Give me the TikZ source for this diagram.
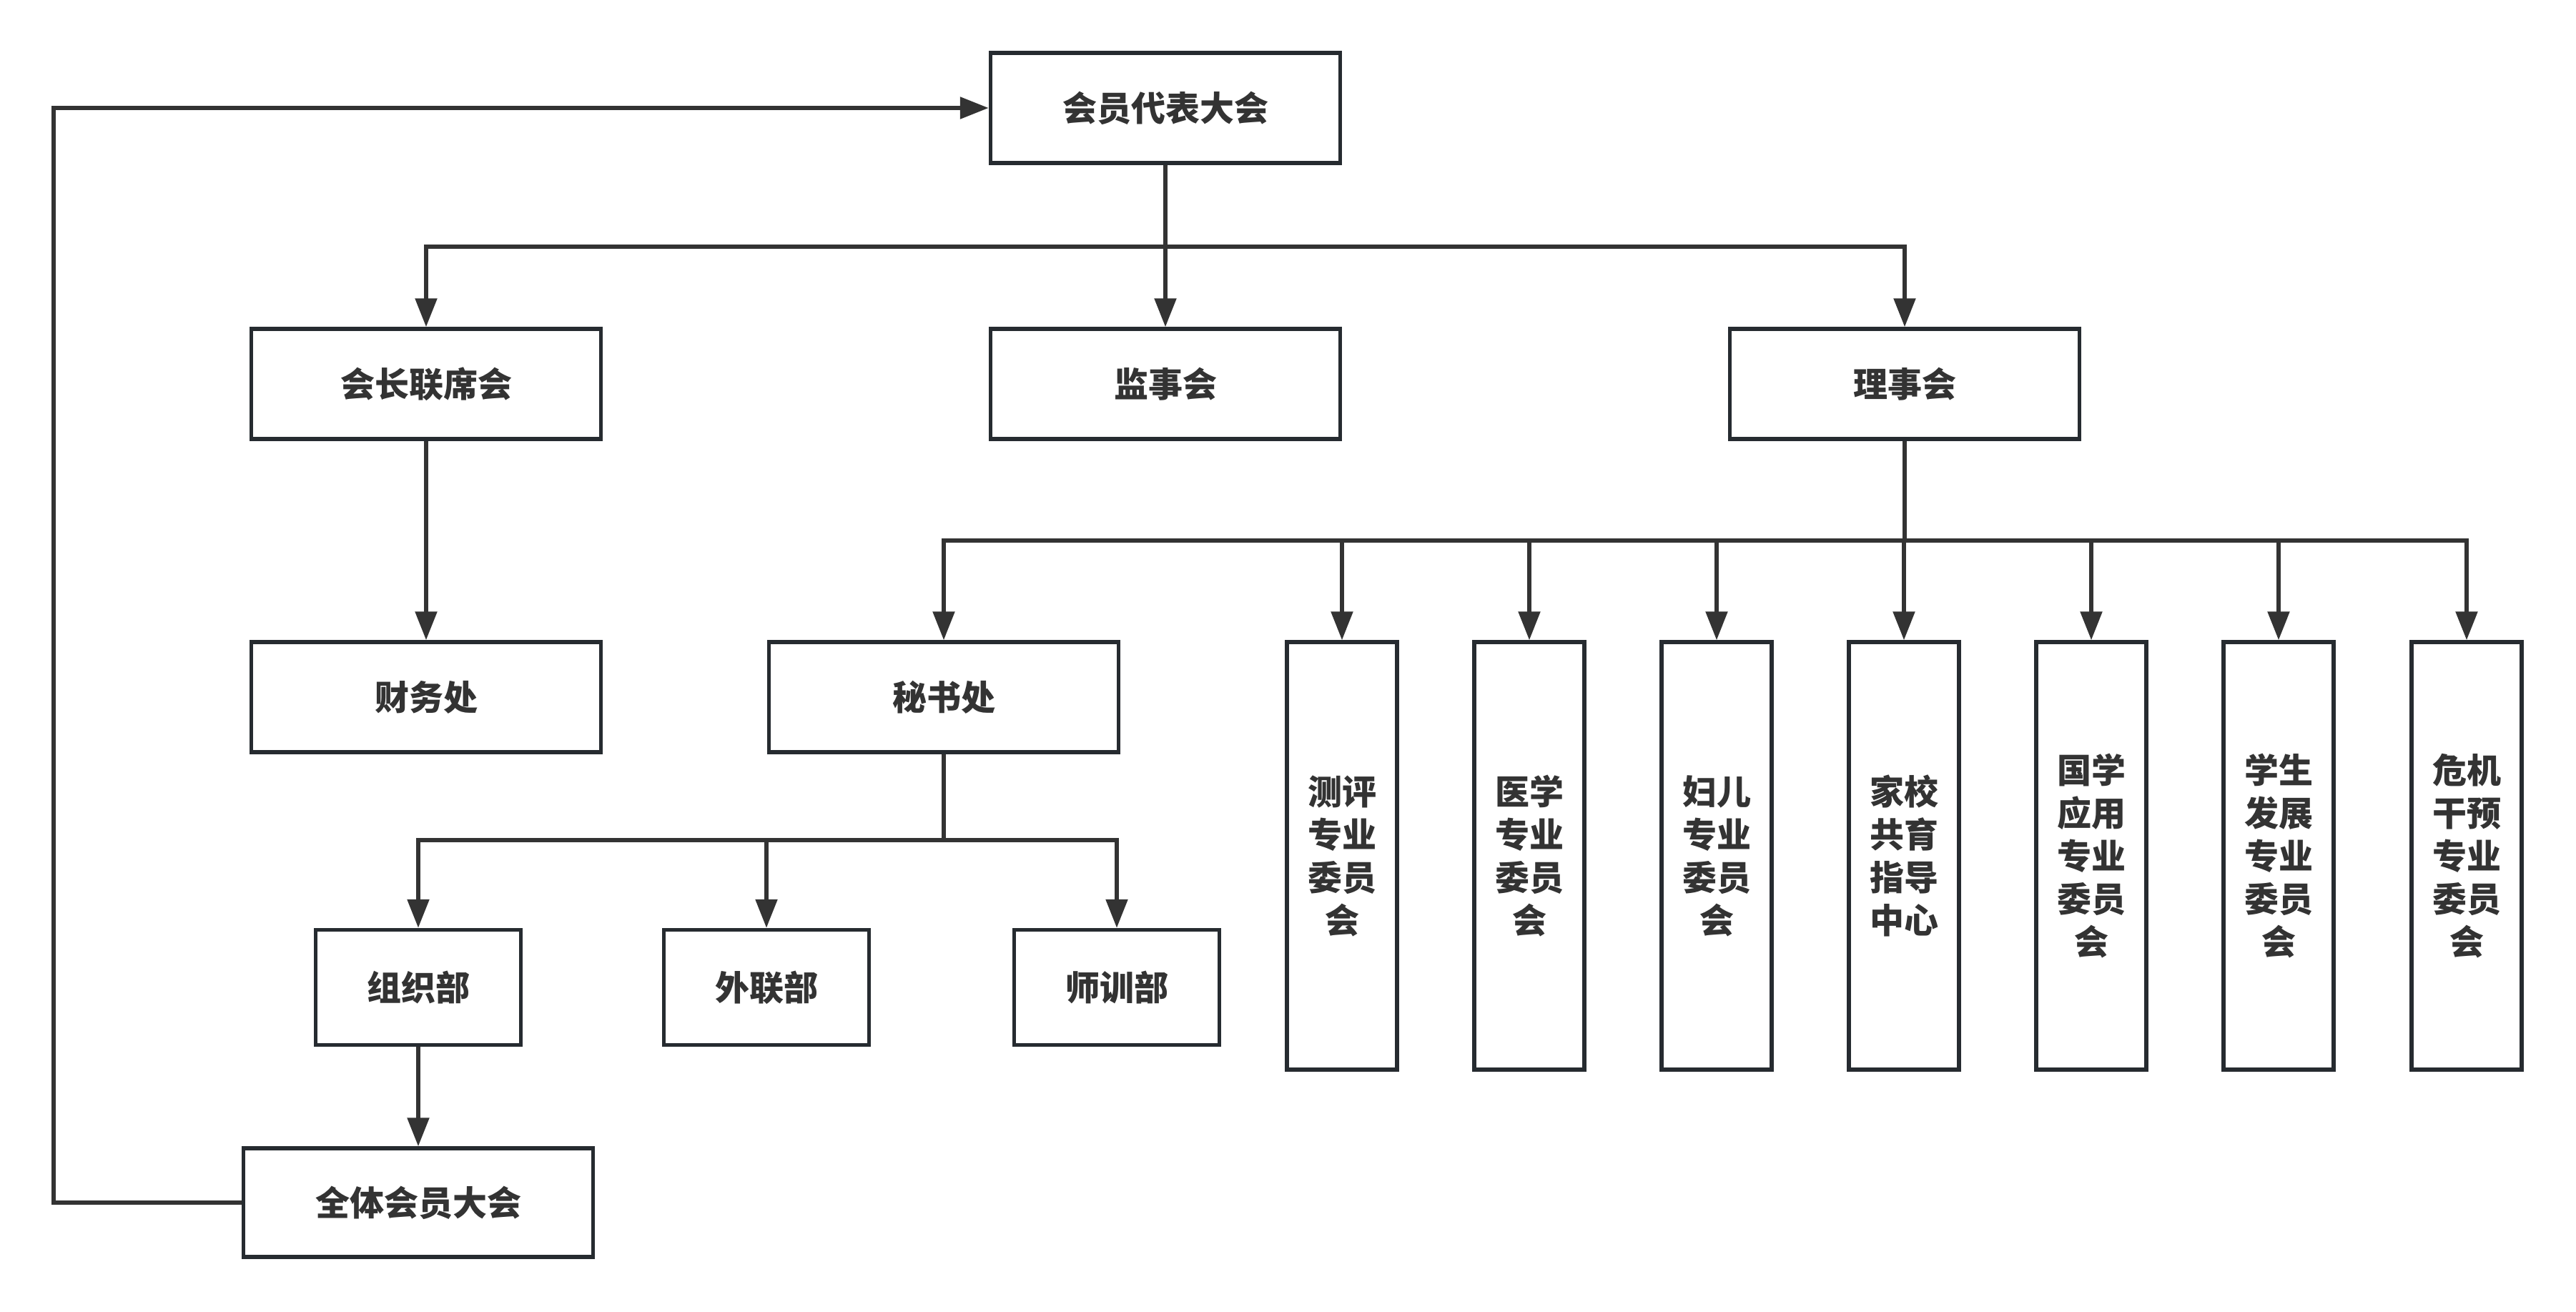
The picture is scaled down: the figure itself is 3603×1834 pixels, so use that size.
\documentclass[tikz,border=0pt]{standalone}
\usepackage{fontspec}
\setmainfont{Noto Sans CJK SC}
\usetikzlibrary{arrows.meta}
\definecolor{ink}{HTML}{333333}
\definecolor{edge}{HTML}{262B30}
\begin{document}
\begin{tikzpicture}[x=1pt,y=-1pt,
  box/.style={draw=edge, line width=5.5pt, fill=white, inner sep=0pt, text=ink,
    font=\fontsize{48}{60}\selectfont\bfseries, align=center},
  wide/.style={box, minimum width=489pt, minimum height=154pt},
  small/.style={box, minimum width=287pt, minimum height=161pt},
  tall/.style={box, minimum width=154pt, minimum height=598pt},
  conn/.style={draw=ink, line width=5.5pt},
  arr/.style={conn, -{Triangle[length=40pt, width=30pt]}}]
\useasboundingbox (0,0) rectangle (3603,1834);
\fill[white] (0,0) rectangle (3603,1834);
% nodes
\node[wide] (dbdh) at (1630,151) {会员代表大会};
\node[wide] (hzlx) at (596,537) {会长联席会};
\node[wide] (jsh) at (1630,537) {监事会};
\node[wide] (lsh) at (2664,537) {理事会};
\node[wide] (cwc) at (596,975) {财务处};
\node[wide] (msc) at (1320,975) {秘书处};
\node[small] (zzb) at (585,1381) {组织部};
\node[small] (wlb) at (1072,1381) {外联部};
\node[small] (sxb) at (1562,1381) {师训部};
\node[wide, minimum height=152pt] (qthy) at (585,1682) {全体会员大会};
\node[tall] (c1) at (1877,1197) {测评\\专业\\委员\\会};
\node[tall] (c2) at (2139,1197) {医学\\专业\\委员\\会};
\node[tall] (c3) at (2401,1197) {妇儿\\专业\\委员\\会};
\node[tall] (c4) at (2663,1197) {家校\\共育\\指导\\中心};
\node[tall] (c5) at (2925,1197) {国学\\应用\\专业\\委员\\会};
\node[tall] (c6) at (3187,1197) {学生\\发展\\专业\\委员\\会};
\node[tall] (c7) at (3450,1197) {危机\\干预\\专业\\委员\\会};
% top level
\coordinate (b1) at (1630,345);
\draw[conn] (dbdh.south) -- (b1);
\draw[arr] (b1) -| (hzlx.north);
\draw[arr] (b1) -- (jsh.north);
\draw[arr] (b1) -| (lsh.north);
% 会长联席会
\draw[arr] (hzlx.south) -- (cwc.north);
% 理事会
\coordinate (b2) at (2664,756);
\draw[conn] (lsh.south) -- (b2);
\draw[arr] (b2) -| (msc.north);
\foreach \n in {c1,c2,c3,c4,c5,c6,c7}{
  \draw[arr] (b2) -| (\n.north);
}
% 秘书处
\coordinate (b3) at (1320,1175);
\draw[conn] (msc.south) -- (b3);
\draw[arr] (b3) -| (zzb.north);
\draw[arr] (b3) -| (wlb.north);
\draw[arr] (b3) -| (sxb.north);
% 组织部
\draw[arr] (zzb.south) -- (qthy.north);
% loop back
\coordinate (l1) at (75,1682);
\coordinate (l2) at (75,151);
\draw[arr] (qthy.west) -- (l1) -- (l2) -- (dbdh.west);
\end{tikzpicture}
\end{document}
